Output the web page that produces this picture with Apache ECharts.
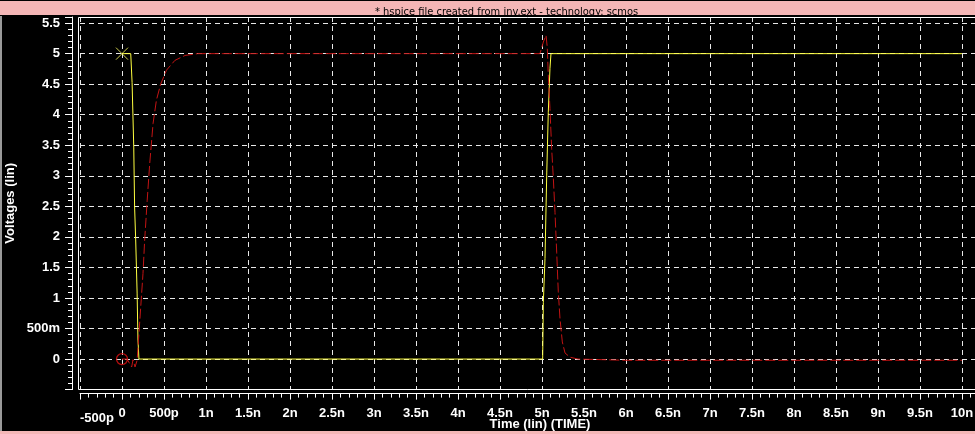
<!DOCTYPE html>
<html><head><meta charset="utf-8">
<script src="https://cdn.jsdelivr.net/npm/echarts@6/dist/echarts.min.js"></script>
<style>html,body{margin:0;padding:0;background:#000;}#c{width:975px;height:434px;}</style>
</head><body><div id="c"></div>
<script>
const titleText = '* hspice file created from inv.ext - technology: scmos';
const xAxisName = 'Time (lin) (TIME)';
const yAxisName = 'Voltages (lin)';
const xTickValues = [-0.5,0,0.5,1,1.5,2,2.5,3,3.5,4,4.5,5,5.5,6,6.5,7,7.5,8,8.5,9,9.5,10];
const xTickLabels = ['-500p','0','500p','1n','1.5n','2n','2.5n','3n','3.5n','4n','4.5n','5n','5.5n','6n','6.5n','7n','7.5n','8n','8.5n','9n','9.5n','10n'];
const yTickValues = [0,0.5,1,1.5,2,2.5,3,3.5,4,4.5,5,5.5];
const yTickLabels = ['0','500m','1','1.5','2','2.5','3','3.5','4','4.5','5','5.5'];

// input (yellow) - time in ns, volts
const inTime = [0, 0.104, 0.12, 0.14, 0.15, 0.163, 0.18, 0.19, 0.202, 5.008, 5.016, 5.036, 5.056, 5.075, 5.095, 5.107, 10];
const inVolt = [5, 5, 4.53, 3.47, 2.49, 1.95, 1.08, 0.31, 0, 0, 0.93, 1.65, 3.0, 4.04, 4.76, 5, 5];
// output (red)
const outTime = [0, 0.06, 0.115, 0.131, 0.155, 0.18, 0.21, 0.25, 0.27, 0.3, 0.33, 0.37, 0.41, 0.46, 0.53, 0.63, 0.75, 0.9, 1.2, 4.976, 5.016, 5.048, 5.063, 5.075, 5.095, 5.115, 5.135, 5.155, 5.175, 5.194, 5.214, 5.242, 5.274, 5.333, 5.43, 6, 10];
const outVolt = [0, 0, -0.13, -0.01, -0.13, -0.02, 0.59, 1.4, 1.95, 2.6, 3.2, 3.86, 4.24, 4.5, 4.73, 4.89, 4.97, 5.0, 5.0, 5.0, 5.19, 5.3, 5.1, 4.65, 4.1, 3.45, 2.96, 2.4, 1.75, 1.1, 0.67, 0.28, 0.1, 0.03, 0, -0.02, -0.02];

const zip = (a, b) => a.map((t, i) => [t, b[i]]);
const findIdx = (arr, v) => arr.findIndex(t => Math.abs(t - v) < 1e-6);
const axisFont = {color: '#fff', fontWeight: 'bold', fontSize: 13, fontFamily: "'Liberation Sans', Arial, sans-serif"};

const chart = echarts.init(document.getElementById('c'), null, {renderer: 'canvas'});
chart.setOption({
  animation: false,
  backgroundColor: '#000',
  title: {
    text: titleText, left: 370, top: 2,
    textStyle: {color: '#000', fontSize: 11, fontWeight: 'normal', fontFamily: "'Liberation Sans Narrow', 'DejaVu Sans Condensed', 'Liberation Sans', sans-serif"}
  },
  graphic: [
    {type: 'rect', z: 0, shape: {x: 0, y: 1, width: 975, height: 14}, style: {fill: '#f4b6b6'}},
    {type: 'rect', z: 0, shape: {x: 0, y: 16, width: 2, height: 418}, style: {fill: '#9a9a9a'}},
    {type: 'rect', z: 0, shape: {x: 0, y: 431, width: 975, height: 3}, style: {fill: '#f4b6b6'}},
    {type: 'rect', z: 100, shape: {x: 78.5, y: 17.5, width: 1000, height: 372}, style: {fill: null, stroke: '#fff', lineWidth: 1}}
  ],
  grid: {left: 80, right: 0, top: 17, bottom: 44.4, containLabel: false, outerBoundsMode: 'none'},
  xAxis: {
    type: 'value', min: -0.5, max: 10.155, interval: 0.5, offset: 4,
    name: xAxisName, nameLocation: 'middle', nameGap: 24, nameMoveOverlap: false,
    nameTextStyle: Object.assign({padding: [0, 0, 0, 25]}, axisFont),
    axisLine: {show: true, onZero: false, lineStyle: {color: '#fff', width: 1}},
    axisTick: {show: true, length: 6, lineStyle: {color: '#fff'}},
    minorTick: {show: true, splitNumber: 5, length: 4, lineStyle: {color: '#fff'}},
    axisLabel: Object.assign({
      margin: 13, alignMinLabel: 'left',
      formatter: v => { const i = findIdx(xTickValues, v); return i < 0 ? '' : (i === 0 ? '{lo|' + xTickLabels[i] + '}' : xTickLabels[i]); },
      rich: {lo: Object.assign({padding: [5, 0, 0, 0]}, axisFont)}
    }, axisFont),
    splitLine: {show: true, lineStyle: {color: '#e8e8e8', type: [5, 4], width: 1}},
    minorSplitLine: {show: false}
  },
  yAxis: {
    type: 'value', min: -0.5, max: 5.6, interval: 0.5, offset: 8,
    name: yAxisName, nameLocation: 'middle', nameRotate: 90, nameGap: 55, nameMoveOverlap: false,
    nameTextStyle: axisFont,
    axisLine: {show: true, onZero: false, lineStyle: {color: '#fff', width: 1}},
    axisTick: {show: true, length: 7, lineStyle: {color: '#fff'}},
    minorTick: {show: true, splitNumber: 5, length: 4, lineStyle: {color: '#fff'}},
    axisLabel: Object.assign({
      margin: 12,
      formatter: v => { const i = findIdx(yTickValues, v); return i < 0 ? '' : yTickLabels[i]; }
    }, axisFont),
    splitLine: {show: true, lineStyle: {color: '#e8e8e8', type: [5, 4], width: 1}}
  },
  series: [
    {type: 'line', data: zip(inTime, inVolt), showSymbol: false, lineStyle: {color: '#ffff40', width: 1}, z: 3},
    {type: 'line', data: zip(outTime, outVolt), showSymbol: false, lineStyle: {color: '#c41414', width: 1, type: [10, 3]}, z: 4},
    {type: 'scatter', data: [[inTime[0], inVolt[0]]], symbol: 'path://M0 0L10 10M10 0L0 10', symbolSize: 12,
     itemStyle: {color: 'none', borderColor: '#ffff60', borderWidth: 1}, z: 5},
    {type: 'scatter', data: [[outTime[0], outVolt[0]]], symbol: 'circle', symbolSize: 11,
     itemStyle: {color: 'transparent', borderColor: '#e01010', borderWidth: 1.3}, z: 5}
  ]
});
</script></body></html>
